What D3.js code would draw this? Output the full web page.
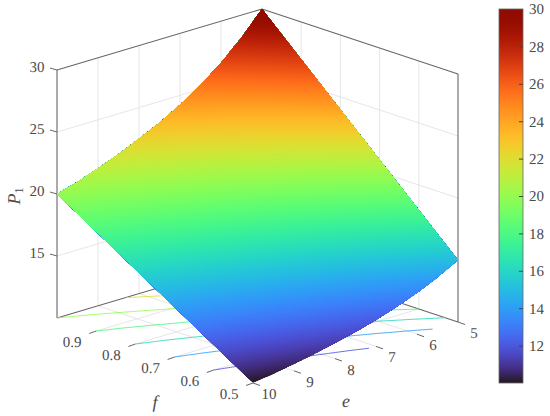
<!DOCTYPE html>
<html><head><meta charset="utf-8">
<script src="https://cdn.jsdelivr.net/npm/d3@7"></script>
<style>html,body{margin:0;padding:0;background:#fff}svg{display:block}svg text{font-family:"Liberation Serif","Times New Roman",serif !important;fill:#4a4a4a;text-rendering:geometricPrecision}</style>
</head><body><svg id="c" width="550" height="416"></svg>
<script>
const eValues=[5,5.5,6,6.5,7,7.5,8,8.5,9,9.5,10];
const fValues=[0.5,0.6,0.7,0.8,0.9,1];
const p1F05=[15,14.1,13.33,12.68,12.13,11.65,11.25,10.88,10.55,10.25,10];
const p1F06=[18,16.92,16,15.21,14.55,13.98,13.5,13.05,12.66,12.3,12];
const p1F07=[21,19.74,18.66,17.75,16.98,16.31,15.75,15.23,14.77,14.35,14];
const p1F08=[24,22.56,21.32,20.28,19.4,18.64,18,17.4,16.88,16.4,16];
const p1F09=[27,25.38,23.99,22.82,21.83,20.97,20.25,19.58,18.99,18.45,18];
const p1F10=[30,28.2,26.65,25.35,24.25,23.3,22.5,21.75,21.1,20.5,20];
const p1Rows=[p1F05,p1F06,p1F07,p1F08,p1F09,p1F10];
const eTicks=[5,6,7,8,9,10];
const fTicks=[0.5,0.6,0.7,0.8,0.9];
const zTicks=[15,20,25,30];
const cbTicks=[12,14,16,18,20,22,24,26,28,30];
const contourLevels=[12,14,16,18,20,22,24,26,28];

const svg=d3.select("#c");
const X0=253,Y0=383;
const eX=d3.scaleLinear([5,10],[205,0]), eY=d3.scaleLinear([5,10],[-61,0]);
const fX=d3.scaleLinear([0.5,1],[0,-196]), fY=d3.scaleLinear([0.5,1],[0,-65]);
const zY=d3.scaleLinear([10,30],[0,-248]);
const color=d3.scaleSequential([10,30],d3.interpolateTurbo);
const proj=(e,f,z)=>[X0+eX(e)+fX(f),Y0+eY(e)+fY(f)+zY(z)];
const seg=(g,a,b,stroke,w)=>g.append("line").attr("x1",a[0]).attr("y1",a[1]).attr("x2",b[0]).attr("y2",b[1]).attr("stroke",stroke).attr("stroke-width",w);

const grid=svg.append("g"), GC="#e6e6e6";
const eMin=5,eMax=10,fMin=0.5,fMax=1,zMin=10,zMax=30;
eTicks.slice(1,-1).forEach(e=>{
  seg(grid,proj(e,fMax,zMin),proj(e,fMax,zMax),GC,1);
  seg(grid,proj(e,fMax,zMin),proj(e,fMin,zMin),GC,1);
});
fTicks.slice(1).forEach(f=>{
  seg(grid,proj(eMin,f,zMin),proj(eMin,f,zMax),GC,1);
  seg(grid,proj(eMin,f,zMin),proj(eMax,f,zMin),GC,1);
});
zTicks.slice(0,-1).forEach(z=>{
  seg(grid,proj(eMax,fMax,z),proj(eMin,fMax,z),GC,1);
  seg(grid,proj(eMin,fMax,z),proj(eMin,fMin,z),GC,1);
});

const frame=svg.append("g"), AC="#666";
[[[eMax,fMax,zMin],[eMin,fMax,zMin]],[[eMin,fMax,zMin],[eMin,fMin,zMin]],
 [[eMax,fMax,zMin],[eMax,fMax,zMax]],[[eMin,fMin,zMin],[eMin,fMin,zMax]],
 [[eMin,fMax,zMin],[eMin,fMax,zMax]],
 [[eMax,fMax,zMax],[eMin,fMax,zMax]],[[eMin,fMax,zMax],[eMin,fMin,zMax]]]
 .forEach(([a,b])=>seg(frame,proj(...a),proj(...b),AC,1.1));

// table lookups: the surface is straight along f between table rows, so iso-levels are solved per e
const eIdx=d3.scaleLinear(eValues,d3.range(eValues.length));
function column(e){
  const ei=Math.min(Math.floor(eIdx(e)+1e-9),eValues.length-2), a=eIdx(e)-ei;
  return p1Rows.map(r=>(1-a)*r[ei]+a*r[ei+1]);
}
// floor contour lines
const floor=svg.append("g").attr("fill","none");
const line=d3.line();
const eFine=d3.range(0,126).map(d3.scaleLinear([0,125],[eMin,eMax]));
contourLevels.forEach(lv=>{
  const pts=[];
  eFine.forEach(e=>{
    const col=column(e);
    if(lv>=col[0]&&lv<=col[col.length-1]) pts.push(proj(e,d3.scaleLinear(col,fValues)(lv),zMin));
  });
  floor.append("path").attr("d",line(pts)).attr("stroke",color(lv)).attr("stroke-width",1).attr("stroke-opacity",0.85);
});

// surface: nested superlevel regions, painted from the lowest level up, clipped to the outline
const fmt=p=>p[0].toFixed(2)+","+p[1].toFixed(2);
const front=eFine.map(e=>proj(e,fMin,column(e)[0]));
const back=eFine.map(e=>{const c=column(e);return proj(e,fMax,c[c.length-1]);}).reverse();
svg.append("clipPath").attr("id","outline").append("path").attr("d","M"+front.concat(back).map(fmt).join("L")+"Z");
const surf=svg.append("g").attr("clip-path","url(#outline)");
const dz=0.05;
d3.range(10,30,dz).forEach(z=>{
  const lower=[],upper=[];
  eFine.forEach(e=>{
    const col=column(e);
    const top=col[col.length-1];
    if(top<z) return;
    let fz=fMin,pz=col[0];
    if(z>col[0]){fz=d3.scaleLinear(col,fValues)(z);pz=z;}
    lower.push(proj(e,fz,pz));
    upper.push(proj(e,fMax,top));
  });
  if(lower.length<1) return;
  upper.reverse();
  surf.append("path").attr("d","M"+lower.concat(upper).map(fmt).join("L")+"Z").attr("fill",color(z+dz/2));
});

// ticks and labels
const ticks=svg.append("g");
const FS=15;
const label=(x,y,t)=>ticks.append("text").attr("x",x).attr("y",y).attr("text-anchor","middle").attr("dominant-baseline","central").attr("font-size",FS).text(t);
zTicks.forEach(z=>{
  const p=proj(eMax,fMax,z);
  seg(ticks,p,[p[0]-7,p[1]-2],AC,1);
  label(p[0]-20,p[1]-2,z);
});
fTicks.forEach(f=>{
  const p=proj(eMax,f,zMin);
  seg(ticks,p,[p[0]-7,p[1]+2.5],AC,1);
  label(p[0]-24,p[1]+12,d3.format(".1f")(f));
});
eTicks.forEach(e=>{
  const p=proj(e,fMin,zMin);
  seg(ticks,p,[p[0]+7,p[1]+2.5],AC,1);
  label(p[0]+16,p[1]+12,e);
});
ticks.append("text").attr("x",155).attr("y",402).attr("text-anchor","middle").attr("dominant-baseline","central").attr("font-size",18).attr("font-style","italic").text("f");
ticks.append("text").attr("x",346).attr("y",401).attr("text-anchor","middle").attr("dominant-baseline","central").attr("font-size",18).attr("font-style","italic").text("e");
const pl=ticks.append("text").attr("transform","translate(20,196) rotate(-90)").attr("text-anchor","middle").attr("font-size",18);
pl.append("tspan").attr("font-style","italic").text("P");
pl.append("tspan").attr("font-size",12).attr("dy",3).text("1");

// colorbar
const cbX=499,cbW=24,cbT=9,cbB=383;
const cbScale=d3.scaleLinear([10,30],[cbB,cbT]);
const grad=svg.append("defs").append("linearGradient").attr("id","cb").attr("x1",0).attr("x2",0).attr("y1",1).attr("y2",0);
d3.range(0,1.0001,0.02).forEach(t=>grad.append("stop").attr("offset",t).attr("stop-color",d3.interpolateTurbo(t)));
svg.append("rect").attr("x",cbX).attr("y",cbT).attr("width",cbW).attr("height",cbB-cbT).attr("fill","url(#cb)").attr("stroke",AC).attr("stroke-width",0.8);
const ax=svg.append("g").attr("transform",`translate(${cbX+cbW},0)`).call(d3.axisRight(cbScale).tickValues(cbTicks).tickSize(-4).tickPadding(10));
ax.select(".domain").remove();
ax.selectAll("line").attr("stroke","#444");
ax.selectAll("text").attr("font-size",FS).attr("x",6);
</script></body></html>
